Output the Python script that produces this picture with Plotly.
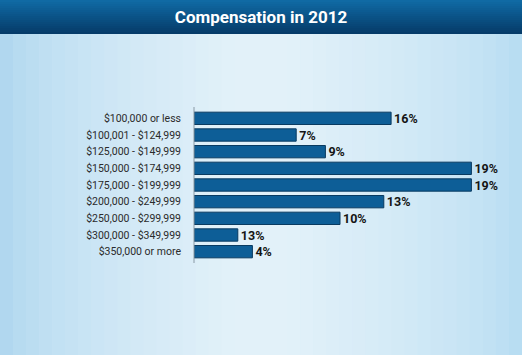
import plotly.graph_objects as go

categories = [
    "$100,000 or less",
    "$100,001 - $124,999",
    "$125,000 - $149,999",
    "$150,000 - $174,999",
    "$175,000 - $199,999",
    "$200,000 - $249,999",
    "$250,000 - $299,999",
    "$300,000 - $349,999",
    "$350,000 or more",
]
# bar lengths as drawn in the picture (percent)
bar_values = [13.5, 7, 9, 19, 19, 13, 10, 3, 4]
# value labels as printed in the picture
value_labels = ["16%", "7%", "9%", "19%", "19%", "13%", "10%", "13%", "4%"]

W, H = 522, 355
ML, MR, MT, MB = 194, 0, 110, 95
PW = W - ML - MR
PH = H - MT - MB


def px_x(p):
    return (p - ML) / PW


def px_y(p):
    return (H - MB - p) / PH


def lerp(c1, c2, t):
    return "rgb(%d,%d,%d)" % tuple(round(a + (b - a) * t) for a, b in zip(c1, c2))


shapes = []
# background horizontal gradient (edges darker)
edge_l = (170, 212, 238)
edge_r = (178, 218, 241)
center = (226, 241, 249)
n = 40
for i in range(n):
    x0 = W * i / n
    x1 = W * (i + 1) / n + 0.5
    t = (i + 0.5) / n
    if t < 0.45:
        c = lerp(edge_l, center, (t / 0.45) ** 0.6)
    elif t > 0.55:
        c = lerp(edge_r, center, ((1 - t) / 0.45) ** 0.6)
    else:
        c = lerp(center, center, 0)
    shapes.append(dict(type="rect", xref="paper", yref="paper", layer="below",
                       x0=px_x(x0), x1=px_x(x1), y0=px_y(H), y1=px_y(34),
                       fillcolor=c, line=dict(width=0)))
# title bar vertical gradient
top_c = (16, 107, 166)
bot_c = (5, 58, 103)
m = 17
for i in range(m):
    y0 = 34 * i / m
    y1 = 34 * (i + 1) / m + 0.5
    c = lerp(top_c, bot_c, (i + 0.5) / m)
    shapes.append(dict(type="rect", xref="paper", yref="paper", layer="below",
                       x0=px_x(0), x1=px_x(W), y0=px_y(min(y1, 34)), y1=px_y(y0),
                       fillcolor=c, line=dict(width=0)))
# vertical axis line
shapes.append(dict(type="line", xref="paper", yref="paper", layer="above",
                   x0=0, x1=0, y0=px_y(263), y1=px_y(107),
                   line=dict(color="#8a9aa5", width=1)))

fig = go.Figure(go.Bar(
    y=categories,
    x=bar_values,
    orientation="h",
    marker=dict(color="#0d5e97", line=dict(color="#083a60", width=1)),
    text=value_labels,
    textposition="outside",
    constraintext="none",
    textfont=dict(family="Roboto", size=12.5, color="#151515", weight="bold"),
    cliponaxis=False,
    hoverinfo="skip",
))

fig.update_layout(
    width=W, height=H,
    margin=dict(l=ML, r=MR, t=MT, b=MB, pad=0),
    paper_bgcolor="#d8ecf7",
    plot_bgcolor="rgba(0,0,0,0)",
    bargap=0.26,
    showlegend=False,
    shapes=shapes,
    title=dict(text="<b>Compensation in 2012</b>", x=0.5, xanchor="center",
               y=(H - 17.5) / H, yanchor="middle", yref="container",
               font=dict(family="Roboto", size=17, color="white")),
    xaxis=dict(range=[0, PW / 14.6], visible=False, fixedrange=True),
    yaxis=dict(autorange="reversed", showgrid=False, zeroline=False, showline=False,
               ticks="", ticklabelstandoff=12,
               tickfont=dict(family="Roboto", size=10.5, color="#2b2b2b")),
)

fig.write_html(
    "out.html",
    config={"displayModeBar": False},
    post_script="document.body.style.margin='0';document.body.style.padding='0';",
)
